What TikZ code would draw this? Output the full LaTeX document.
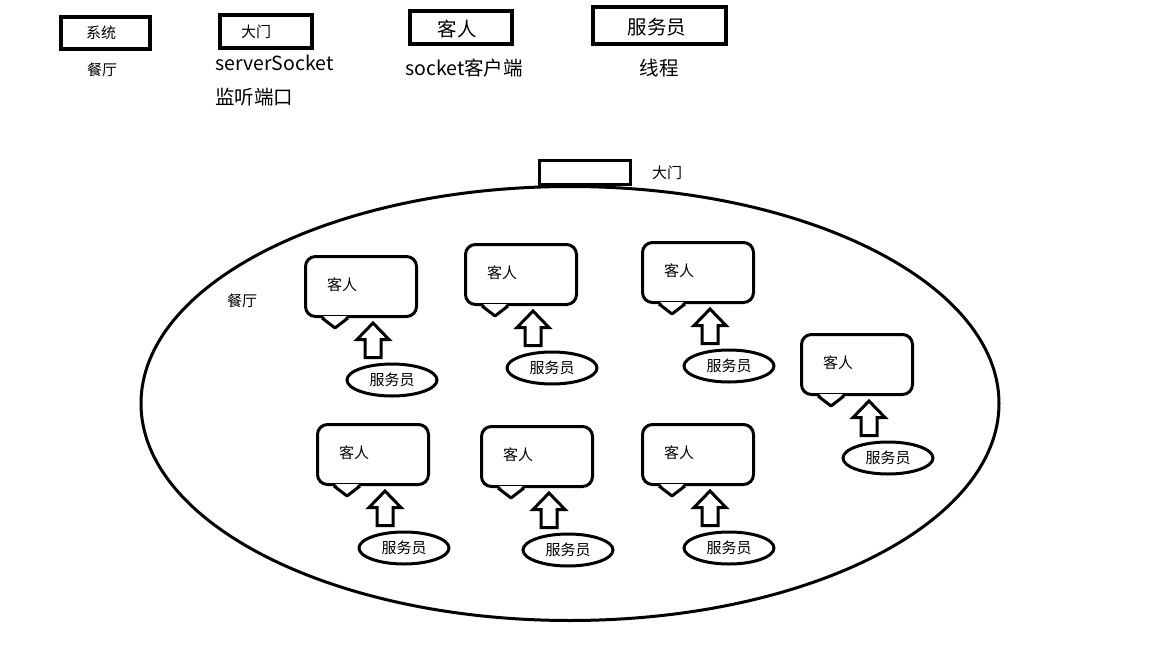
\documentclass[tikz,border=0pt]{standalone}
\usepackage{fontspec}
\setmainfont{Noto Sans CJK SC}
\usetikzlibrary{positioning, shapes.geometric, calc}

\tikzset{
  small text/.style={font=\fontsize{15}{18}\selectfont},
  big text/.style={font=\fontsize{19.5}{23}\selectfont},
  keybox/.style={draw, line width=4pt, inner sep=0pt},
  guestbox/.style={draw, line width=3pt, rounded corners=10pt, minimum width=111pt, minimum height=60pt, inner sep=0pt},
  waiter/.style={draw, ellipse, line width=3pt, minimum width=90pt, minimum height=32pt, inner sep=0pt, small text},
  blockarrow/.style={draw, line width=3pt, fill=white, line join=miter},
}

% one guest: speech bubble, block arrow and its waiter (id, x, y of the waiter)
\newcommand{\guest}[3]{%
  \node (s#1) [waiter] at (#2,#3) {服务员};
  \node (k#1) [guestbox, label={[small text, xshift=-19pt, yshift=1.5pt]center:客人}] at ($(s#1)+(-31,-93.5)$) {};
  \fill [white] ($(k#1.south west)+(19,-2)$) -- ($(k#1.south west)+(31,8)$) -- ($(k#1.south west)+(43,-2)$) -- cycle;
  \draw [line width=3pt, line join=round] ($(k#1.south west)+(18,0)$) -- ($(k#1.south west)+(31,10)$) -- ($(k#1.south west)+(44,0)$);
  \coordinate (a#1) at ($(s#1.north)+(-19,-5)$);
  \coordinate (t#1) at ($(k#1.south -| a#1)+(0,5)$);
  \draw [blockarrow] ($(a#1)+(-8,0)$) -- ($(a#1)+(-8,-18)$) -- ($(a#1)+(-16,-18)$) -- (t#1)
    -- ($(a#1)+(16,-18)$) -- ($(a#1)+(8,-18)$) -- ($(a#1)+(8,0)$) -- cycle;
}

\begin{document}
\begin{tikzpicture}[x=1pt, y=-1pt]
  \useasboundingbox (0,0) rectangle (1152,648);

  % legend
  \node (sys) [keybox, minimum width=89pt, minimum height=32pt, label={[small text, xshift=-4.5pt]center:系统}] at (105.5,33) {};
  \node (sysnote) [small text] at (102,70) {餐厅};
  \node (gate) [keybox, minimum width=92pt, minimum height=33pt, label={[small text, xshift=-10pt]center:大门}] at (266,31.5) {};
  \node (gatenote) [big text, anchor=west, inner sep=0pt] at (215,63) {serverSocket};
  \node (portnote) [big text, anchor=west, inner sep=0pt] at (215,97) {监听端口};
  \node (client) [keybox, minimum width=102pt, minimum height=33pt, label={[big text, xshift=-4pt, yshift=-1.5pt]center:客人}] at (461,27.5) {};
  \node (clientnote) [big text] at (464,68) {socket客户端};
  \node (staff) [keybox, minimum width=133pt, minimum height=37pt, label={[big text, xshift=-2.5pt, yshift=-1.5pt]center:服务员}] at (659.5,25.5) {};
  \node (staffnote) [big text] at (659,68) {线程};

  % the restaurant
  \node (hall) [draw, ellipse, line width=3pt, minimum width=858pt, minimum height=434pt] at (570,403.5) {};
  \node (door) [draw, line width=3pt, minimum width=91pt, minimum height=24pt] at (585,172.5) {};
  \node (doornote) [small text] at (667,173) {大门};
  \node (hallnote) [small text] at (242,301) {餐厅};

  \guest{1}{392}{380}
  \guest{2}{552}{368}
  \guest{3}{729}{366}
  \guest{4}{888}{458}
  \guest{5}{404}{548}
  \guest{6}{568}{550}
  \guest{7}{729}{548}
\end{tikzpicture}
\end{document}
